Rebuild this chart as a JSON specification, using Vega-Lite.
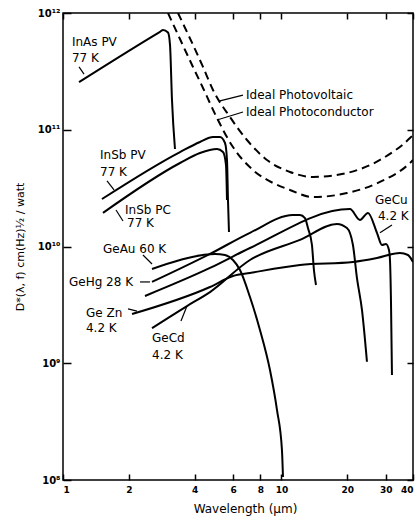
{
  "$schema": "https://vega.github.io/schema/vega-lite/v6.json",
  "autosize": "none",
  "width": 350,
  "height": 467,
  "padding": {"left": 63, "top": 13, "right": 4, "bottom": 36},
  "background": "white",
  "config": {
    "view": {"stroke": "black", "strokeWidth": 1.5},
    "font": "DejaVu Sans"
  },
  "datasets": {
    "curves": [
      {"series": "InAs PV", "kind": "measured", "wl": 1.184, "d": 2.56e11},
      {"series": "InAs PV", "kind": "measured", "wl": 2.78, "d": 6.9e11},
      {"series": "InAs PV", "kind": "measured", "wl": 2.87, "d": 7.15e11},
      {"series": "InAs PV", "kind": "measured", "wl": 3.024, "d": 6.8e11},
      {"series": "InAs PV", "kind": "measured", "wl": 3.089, "d": 5.33e11},
      {"series": "InAs PV", "kind": "measured", "wl": 3.154, "d": 1.8e11},
      {"series": "InAs PV", "kind": "measured", "wl": 3.255, "d": 6.84e10},

      {"series": "InSb PV", "kind": "measured", "wl": 1.508, "d": 2.55e10},
      {"series": "InSb PV", "kind": "measured", "wl": 3.432, "d": 6.44e10},
      {"series": "InSb PV", "kind": "measured", "wl": 4.236, "d": 7.85e10},
      {"series": "InSb PV", "kind": "measured", "wl": 4.859, "d": 8.67e10},
      {"series": "InSb PV", "kind": "measured", "wl": 5.231, "d": 8.67e10},
      {"series": "InSb PV", "kind": "measured", "wl": 5.514, "d": 7.7e10},
      {"series": "InSb PV", "kind": "measured", "wl": 5.632, "d": 5.51e10},
      {"series": "InSb PV", "kind": "measured", "wl": 5.691, "d": 2.5e10},
      {"series": "InSb PV", "kind": "measured", "wl": 5.751, "d": 1.33e10},

      {"series": "InSb PC", "kind": "measured", "wl": 1.524, "d": 1.94e10},
      {"series": "InSb PC", "kind": "measured", "wl": 3.432, "d": 5.19e10},
      {"series": "InSb PC", "kind": "measured", "wl": 4.236, "d": 6.32e10},
      {"series": "InSb PC", "kind": "measured", "wl": 5.068, "d": 6.84e10},
      {"series": "InSb PC", "kind": "measured", "wl": 5.4, "d": 6.44e10},
      {"series": "InSb PC", "kind": "measured", "wl": 5.572, "d": 4.99e10},
      {"series": "InSb PC", "kind": "measured", "wl": 5.632, "d": 2.5e10},

      {"series": "GeAu", "kind": "measured", "wl": 2.555, "d": 6.42e9},
      {"series": "GeAu", "kind": "measured", "wl": 4.373, "d": 8.46e9},
      {"series": "GeAu", "kind": "measured", "wl": 4.963, "d": 8.63e9},
      {"series": "GeAu", "kind": "measured", "wl": 5.514, "d": 8.46e9},
      {"series": "GeAu", "kind": "measured", "wl": 5.998, "d": 7.66e9},
      {"series": "GeAu", "kind": "measured", "wl": 6.459, "d": 6.29e9},
      {"series": "GeAu", "kind": "measured", "wl": 7.175, "d": 3.69e9},
      {"series": "GeAu", "kind": "measured", "wl": 7.972, "d": 1.93e9},
      {"series": "GeAu", "kind": "measured", "wl": 8.859, "d": 8.75e8},
      {"series": "GeAu", "kind": "measured", "wl": 9.537, "d": 3.98e8},
      {"series": "GeAu", "kind": "measured", "wl": 10.05, "d": 1.81e8},
      {"series": "GeAu", "kind": "measured", "wl": 10.16, "d": 1.06e8},

      {"series": "GeHg", "kind": "measured", "wl": 2.555, "d": 4.97e9},
      {"series": "GeHg", "kind": "measured", "wl": 4.708, "d": 8.63e9},
      {"series": "GeHg", "kind": "measured", "wl": 7.175, "d": 1.31e10},
      {"series": "GeHg", "kind": "measured", "wl": 11.29, "d": 1.86e10},
      {"series": "GeHg", "kind": "measured", "wl": 12.15, "d": 1.86e10},
      {"series": "GeHg", "kind": "measured", "wl": 12.81, "d": 1.75e10},
      {"series": "GeHg", "kind": "measured", "wl": 13.22, "d": 1.44e10},
      {"series": "GeHg", "kind": "measured", "wl": 13.79, "d": 1.03e10},
      {"series": "GeHg", "kind": "measured", "wl": 14.08, "d": 6.29e9},
      {"series": "GeHg", "kind": "measured", "wl": 14.39, "d": 4.68e9},

      {"series": "GeCu", "kind": "measured", "wl": 2.373, "d": 3.77e9},
      {"series": "GeCu", "kind": "measured", "wl": 4.708, "d": 6.55e9},
      {"series": "GeCu", "kind": "measured", "wl": 7.175, "d": 9.71e9},
      {"series": "GeCu", "kind": "measured", "wl": 20.58, "d": 2.09e10},
      {"series": "GeCu", "kind": "measured", "wl": 22.87, "d": 1.69e10},
      {"series": "GeCu", "kind": "measured", "wl": 24.89, "d": 1.94e10},
      {"series": "GeCu", "kind": "measured", "wl": 27.36, "d": 1.31e10},
      {"series": "GeCu", "kind": "measured", "wl": 28.84, "d": 1.03e10},
      {"series": "GeCu", "kind": "measured", "wl": 30.08, "d": 1.05e10},
      {"series": "GeCu", "kind": "measured", "wl": 31.05, "d": 9.33e9},
      {"series": "GeCu", "kind": "measured", "wl": 31.38, "d": 7.66e9},
      {"series": "GeCu", "kind": "measured", "wl": 31.71, "d": 3.48e9},
      {"series": "GeCu", "kind": "measured", "wl": 32.05, "d": 7.93e8},

      {"series": "GeZn", "kind": "measured", "wl": 2.07, "d": 2.64e9},
      {"series": "GeZn", "kind": "measured", "wl": 4.708, "d": 4.5e9},
      {"series": "GeZn", "kind": "measured", "wl": 5.998, "d": 5.59e9},
      {"series": "GeZn", "kind": "measured", "wl": 7.175, "d": 5.93e9},
      {"series": "GeZn", "kind": "measured", "wl": 12.15, "d": 6.95e9},
      {"series": "GeZn", "kind": "measured", "wl": 21.24, "d": 7.37e9},
      {"series": "GeZn", "kind": "measured", "wl": 27.36, "d": 7.97e9},
      {"series": "GeZn", "kind": "measured", "wl": 34.85, "d": 8.8e9},
      {"series": "GeZn", "kind": "measured", "wl": 37.93, "d": 8.46e9},
      {"series": "GeZn", "kind": "measured", "wl": 40.0, "d": 7.37e9},

      {"series": "GeCd", "kind": "measured", "wl": 2.555, "d": 2.0e9},
      {"series": "GeCd", "kind": "measured", "wl": 3.694, "d": 3.09e9},
      {"series": "GeCd", "kind": "measured", "wl": 4.708, "d": 4.07e9},
      {"series": "GeCd", "kind": "measured", "wl": 7.175, "d": 7.66e9},
      {"series": "GeCd", "kind": "measured", "wl": 12.15, "d": 1.14e10},
      {"series": "GeCd", "kind": "measured", "wl": 17.95, "d": 1.56e10},
      {"series": "GeCd", "kind": "measured", "wl": 19.94, "d": 1.44e10},
      {"series": "GeCd", "kind": "measured", "wl": 21.24, "d": 1.03e10},
      {"series": "GeCd", "kind": "measured", "wl": 22.16, "d": 5.37e9},
      {"series": "GeCd", "kind": "measured", "wl": 23.36, "d": 2.86e9},
      {"series": "GeCd", "kind": "measured", "wl": 24.62, "d": 1.03e9},

      {"series": "Ideal PV", "kind": "ideal", "wl": 3.36, "d": 1.0e12},
      {"series": "Ideal PV", "kind": "ideal", "wl": 4.373, "d": 3.45e11},
      {"series": "Ideal PV", "kind": "ideal", "wl": 4.859, "d": 2.19e11},
      {"series": "Ideal PV", "kind": "ideal", "wl": 5.812, "d": 1.285e11},
      {"series": "Ideal PV", "kind": "ideal", "wl": 6.953, "d": 8.17e10},
      {"series": "Ideal PV", "kind": "ideal", "wl": 8.584, "d": 5.51e10},
      {"series": "Ideal PV", "kind": "ideal", "wl": 10.94, "d": 4.35e10},
      {"series": "Ideal PV", "kind": "ideal", "wl": 13.94, "d": 3.94e10},
      {"series": "Ideal PV", "kind": "ideal", "wl": 19.94, "d": 4.26e10},
      {"series": "Ideal PV", "kind": "ideal", "wl": 28.24, "d": 5.51e10},
      {"series": "Ideal PV", "kind": "ideal", "wl": 38.74, "d": 8.49e10},
      {"series": "Ideal PV", "kind": "ideal", "wl": 40.0, "d": 9.02e10},

      {"series": "Ideal PC", "kind": "ideal", "wl": 3.024, "d": 1.0e12},
      {"series": "Ideal PC", "kind": "ideal", "wl": 3.936, "d": 3.45e11},
      {"series": "Ideal PC", "kind": "ideal", "wl": 4.373, "d": 2.28e11},
      {"series": "Ideal PC", "kind": "ideal", "wl": 5.068, "d": 1.26e11},
      {"series": "Ideal PC", "kind": "ideal", "wl": 5.998, "d": 7.11e10},
      {"series": "Ideal PC", "kind": "ideal", "wl": 7.405, "d": 4.52e10},
      {"series": "Ideal PC", "kind": "ideal", "wl": 9.145, "d": 3.5e10},
      {"series": "Ideal PC", "kind": "ideal", "wl": 10.94, "d": 3.05e10},
      {"series": "Ideal PC", "kind": "ideal", "wl": 13.94, "d": 2.65e10},
      {"series": "Ideal PC", "kind": "ideal", "wl": 19.94, "d": 2.87e10},
      {"series": "Ideal PC", "kind": "ideal", "wl": 28.24, "d": 3.57e10},
      {"series": "Ideal PC", "kind": "ideal", "wl": 38.74, "d": 5.19e10},
      {"series": "Ideal PC", "kind": "ideal", "wl": 40.0, "d": 5.51e10}
    ],
    "labels": [
      {"text": "InAs PV", "wl": 1.099, "d": 5.64e11},
      {"text": "77 K", "wl": 1.099, "d": 4.12e11},
      {"text": "InSb PV", "wl": 1.477, "d": 6.08e10},
      {"text": "77 K", "wl": 1.477, "d": 4.35e10},
      {"text": "InSb PC", "wl": 1.922, "d": 2.055e10},
      {"text": "77 K", "wl": 1.963, "d": 1.59e10},
      {"text": "GeAu 60 K", "wl": 1.524, "d": 9.52e9},
      {"text": "GeHg 28 K", "wl": 1.065, "d": 4.97e9},
      {"text": "Ge Zn", "wl": 1.274, "d": 2.69e9},
      {"text": "4.2 K", "wl": 1.274, "d": 2.0e9},
      {"text": "GeCd", "wl": 2.555, "d": 1.65e9},
      {"text": "4.2 K", "wl": 2.555, "d": 1.18e9},
      {"text": "GeCu", "wl": 26.79, "d": 2.5e10},
      {"text": "4.2 K", "wl": 27.65, "d": 1.82e10},
      {"text": "Ideal Photovoltaic", "wl": 6.88, "d": 1.98e11},
      {"text": "Ideal Photoconductor", "wl": 6.88, "d": 1.42e11}
    ],
    "leaders": [
      {"wl": 1.184, "d": 3.45e11, "wl2": 1.248, "d2": 3.0e11},
      {"wl": 1.59, "d": 3.64e10, "wl2": 1.712, "d2": 3.05e10},
      {"wl": 1.748, "d": 2.055e10, "wl2": 1.882, "d2": 1.654e10},
      {"wl": 2.323, "d": 8.46e9, "wl2": 2.555, "d2": 7.08e9},
      {"wl": 2.251, "d": 4.97e9, "wl2": 2.501, "d2": 4.97e9},
      {"wl": 1.984, "d": 2.92e9, "wl2": 2.182, "d2": 2.8e9},
      {"wl": 3.467, "d": 2.3e9, "wl2": 3.694, "d2": 3.09e9},
      {"wl": 28.24, "d": 1.31e10, "wl2": 32.05, "d2": 1.53e10},
      {"wl": 5.176, "d": 1.76e11, "wl2": 6.666, "d2": 1.98e11},
      {"wl": 5.068, "d": 1.213e11, "wl2": 6.666, "d2": 1.42e11}
    ]
  },
  "resolve": {"axis": {"x": "independent", "y": "independent"}},
  "layer": [
    {
      "data": {"name": "curves"},
      "transform": [{"filter": "datum.kind == 'measured'"}],
      "mark": {"type": "line", "color": "black", "strokeWidth": 2, "interpolate": "monotone", "clip": true},
      "encoding": {
        "x": {
          "field": "wl", "type": "quantitative",
          "scale": {"type": "log", "domain": [1, 40], "nice": false},
          "axis": {
            "orient": "bottom",
            "values": [1, 2, 4, 6, 8, 10, 20, 30, 40],
            "format": "d",
            "domain": false, "grid": false,
            "tickSize": -6, "tickColor": "black", "tickWidth": 1.5,
            "labelPadding": 11, "labelFontSize": 9, "labelFontWeight": "bold", "labelColor": "black",
            "labelFont": "DejaVu Sans",
            "title": "Wavelength (μm)", "titleFontSize": 12, "titleFontWeight": "normal",
            "titleFont": "DejaVu Sans", "titleColor": "black",
            "titleX": 182, "titleY": 28, "titleBaseline": "middle", "titleAnchor": null
          }
        },
        "y": {
          "field": "d", "type": "quantitative",
          "scale": {"type": "log", "domain": [1e8, 1e12], "nice": false},
          "axis": {
            "orient": "left",
            "values": [1e8, 1e9, 1e10, 1e11, 1e12],
            "labelExpr": "'10' + ['⁸','⁹','¹⁰','¹¹','¹²'][round(log(datum.value)/LN10) - 8]",
            "domain": false, "grid": false,
            "tickSize": -8, "tickColor": "black", "tickWidth": 1.5,
            "labelPadding": 11, "labelFontSize": 10, "labelFontWeight": "bold", "labelColor": "black",
            "labelFont": "DejaVu Sans",
            "title": "D*(λ, f)  cm(Hz)½ / watt", "titleFontSize": 11, "titleFontWeight": "normal",
            "titleFont": "DejaVu Sans", "titleColor": "black",
            "titleX": -43, "titleBaseline": "middle"
          }
        },
        "detail": {"field": "series"}
      }
    },
    {
      "data": {"name": "curves"},
      "transform": [{"filter": "datum.kind == 'ideal'"}],
      "mark": {"type": "line", "color": "black", "strokeWidth": 2, "strokeDash": [8, 5], "interpolate": "monotone", "clip": true},
      "encoding": {
        "x": {
          "field": "wl", "type": "quantitative",
          "scale": {"type": "log", "domain": [1, 40], "nice": false},
          "axis": {
            "orient": "top", "values": [1, 2, 4, 6, 8, 10, 20, 30, 40],
            "labels": false, "domain": false, "grid": false, "title": null,
            "tickSize": -6, "tickColor": "black", "tickWidth": 1.5
          }
        },
        "y": {
          "field": "d", "type": "quantitative",
          "scale": {"type": "log", "domain": [1e8, 1e12], "nice": false},
          "axis": {
            "orient": "right", "values": [1e8, 1e9, 1e10, 1e11, 1e12],
            "labels": false, "domain": false, "grid": false, "title": null,
            "tickSize": -6, "tickColor": "black", "tickWidth": 1.5
          }
        },
        "detail": {"field": "series"}
      }
    },
    {
      "data": {"name": "leaders"},
      "mark": {"type": "rule", "color": "black", "strokeWidth": 1.2},
      "encoding": {
        "x": {"field": "wl", "type": "quantitative", "axis": null},
        "x2": {"field": "wl2"},
        "y": {"field": "d", "type": "quantitative", "axis": null},
        "y2": {"field": "d2"}
      }
    },
    {
      "data": {"name": "labels"},
      "mark": {"type": "text", "align": "left", "baseline": "middle", "fontSize": 12, "font": "DejaVu Sans", "color": "black"},
      "encoding": {
        "x": {"field": "wl", "type": "quantitative", "axis": null},
        "y": {"field": "d", "type": "quantitative", "axis": null},
        "text": {"field": "text"}
      }
    }
  ]
}
